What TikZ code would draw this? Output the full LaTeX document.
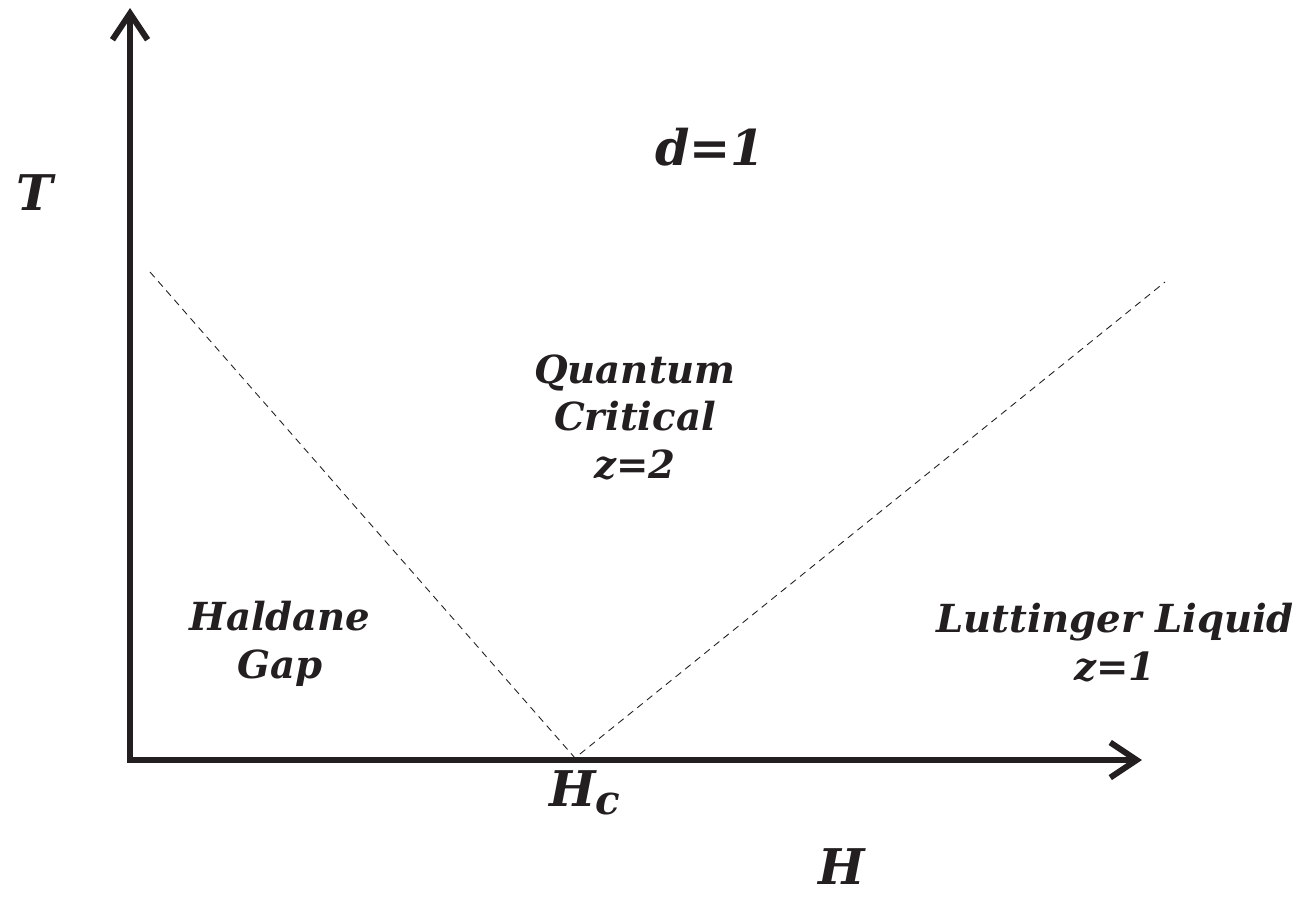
\documentclass[tikz,border=0pt]{standalone}
\usepackage{fontspec}
\setmainfont{DejaVu Serif}
\usetikzlibrary{arrows.meta}
\definecolor{ink}{RGB}{35,31,32}
\begin{document}
\begin{tikzpicture}[x=0.02cm,y=-0.02cm,color=ink,
  axis/.style={line width=3.4pt,-{Straight Barb[length=15pt,width=20pt,line width=3.4pt]}},
  boundary/.style={line width=0.5pt,dash pattern=on 4pt off 3pt},
  lab/.style={text=ink,font=\bfseries\itshape\fontsize{22}{27}\selectfont,align=center,anchor=base,inner sep=0pt},
  big/.style={text=ink,font=\bfseries\itshape\fontsize{28}{34}\selectfont,anchor=base,inner sep=0pt}]
\useasboundingbox (0,0) rectangle (1308,896);
\coordinate (O) at (130,760);
\coordinate (Ttip) at (130,8);
\coordinate (Htip) at (1142,760);
\coordinate (Hc) at (575,758);
\coordinate (L) at (150,272);
\coordinate (R) at (1165,282);
\draw[boundary] (L) -- (Hc) -- (R);
\draw[axis] ([xshift=-1.7pt]O) -- (Htip);
\draw[axis] ([yshift=-1.7pt]O) -- (Ttip);
\node[big] (t) at (35,210) {T};
\node[big] (d) at (710,165) {d=1};
\node[big] (hc) at (585,806) {H\raisebox{-0.35ex}{\fontsize{23}{23}\selectfont c}};
\node[big] (h) at (842,884) {H};
\node[lab] (qc) at (635,478) {Quantum\\Critical\\z=2};
\node[lab] (hg) at (280,678) {Haldane\\Gap};
\node[lab] (ll) at (1115,680) {Luttinger Liquid\\z=1};
\end{tikzpicture}
\end{document}
